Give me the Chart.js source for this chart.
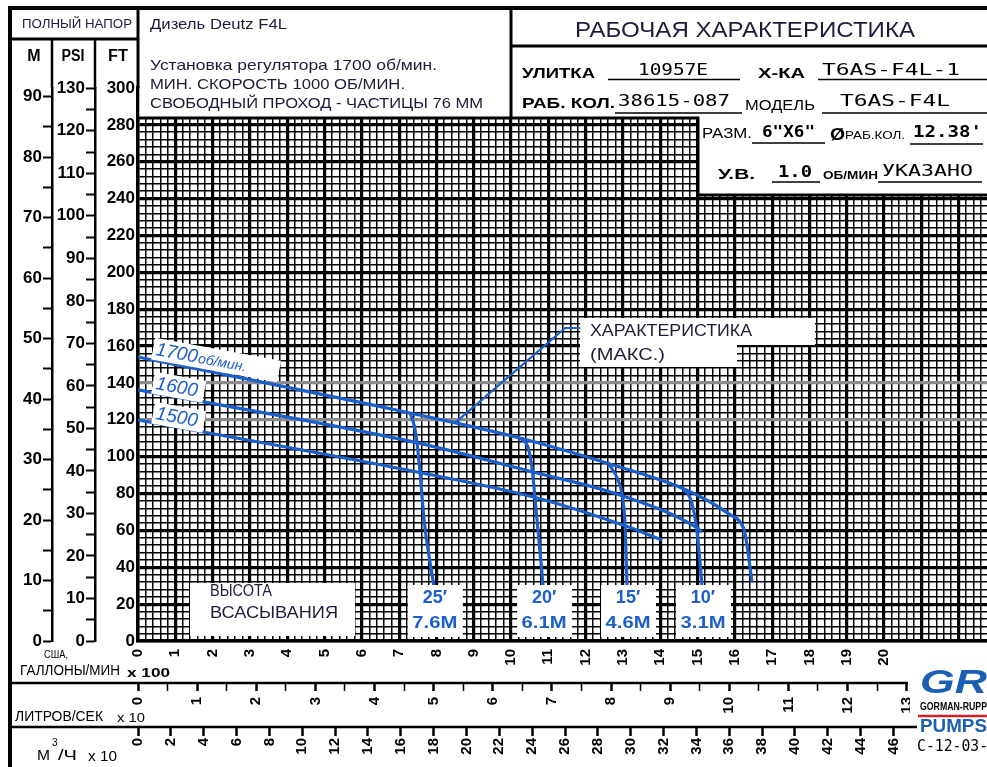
<!DOCTYPE html>
<html><head><meta charset="utf-8">
<style>html,body{margin:0;padding:0;background:#fff;overflow:hidden}#wrap{width:987px;height:767px}</style>
<script src="https://cdn.jsdelivr.net/npm/chart.js@4.4.1/dist/chart.umd.min.js"></script>
</head><body><div id="wrap"><canvas id="c" width="987" height="767"></canvas></div>
<script>
// ---- tick labels ----
const gpmTickLabels = [0,1,2,3,4,5,6,7,8,9,10,11,12,13,14,15,16,17,18,19,20];   // x100 US gpm
const lpsTickLabels = [0,1,2,3,4,5,6,7,8,9,10,11,12,13];                       // x10 L/s
const m3hTickLabels = [0,2,4,6,8,10,12,14,16,18,20,22,24,26,28,30,32,34,36,38,40,42,44,46]; // x10 m3/h
const ftTickLabels  = [0,20,40,60,80,100,120,140,160,180,200,220,240,260,280,300];
const psiTickLabels = [0,10,20,30,40,50,60,70,80,90,100,110,120,130];
const mTickLabels   = [0,10,20,30,40,50,60,70,80,90];

// ---- series (Q in x100 US gpm, H in ft) ----
const rpm1700Q = [0, 7.29, 10.24, 12.73, 14.58, 15.34, 15.88, 16.14, 16.27, 16.46];
const rpm1700H = [154.1, 123.7, 110.1, 95.5, 83.0, 75.4, 68.4, 64.6, 58.6, 32.0];
const rpm1600Q = [0, 7.37, 10.59, 12.92, 14.99, 15.12];
const rpm1600H = [136.2, 108.0, 91.7, 79.2, 61.3, 59.1];
const rpm1500Q = [0, 7.48, 10.70, 13.00, 14.05];
const rpm1500H = [119.9, 91.7, 77.6, 62.9, 54.8];
const lift25Q = [7.29, 7.40, 7.48, 7.56, 7.67, 7.93];
const lift25H = [123.7, 117.2, 107.4, 91.7, 65.6, 30.0];
const lift20Q = [10.24, 10.46, 10.56, 10.64, 10.86];
const lift20H = [110.1, 104.7, 94.4, 78.1, 30.0];
const lift15Q = [12.60, 12.87, 12.98, 13.06, 13.11];
const lift15H = [96.6, 87.3, 79.2, 61.8, 30.0];
const lift10Q = [14.58, 14.80, 14.93, 15.01, 15.12];
const lift10H = [83.0, 77.6, 67.3, 54.8, 30.0];
const calloutQ = [8.50, 11.45, 11.85];
const calloutH = [118.3, 169.8, 169.8];
const liftFt = ["25′","20′","15′","10′"];
const liftM  = ["7.6M","6.1M","4.6M","3.1M"];

// ---- unit conversions ----
const XMAX = 22.76;
const FT_MAX = 300;
const FT_PER_M = 3.28084, FT_PER_PSI = 2.30666;
const LPS10_IN_HGPM = 1.585032, M3H10_IN_HGPM = 0.4402868;

const BLUE = '#1b5fca';
const FONT = "'Liberation Sans', Arial, sans-serif";
Chart.defaults.font.family = FONT;
Chart.defaults.color = '#000';

const zip = (q, h) => q.map((v, i) => ({x: v, y: h[i]}));
const isInt = v => Math.abs(v - Math.round(v)) < 1e-6;
function stepTicks(max, step) {
  return s => { const t = []; for (let i = 0; i * step <= max + 1e-9; i++) t.push({value: Math.round(i * step * 1000) / 1000}); s.ticks = t; };
}
function curve(q, h, w) {
  return {data: zip(q, h), showLine: true, borderColor: BLUE, borderWidth: w || 3.2, pointRadius: 0,
          fill: false, cubicInterpolationMode: 'monotone', xAxisID: 'x', yAxisID: 'y'};
}

function T(c, s, x, y, o) {
  c.save();
  c.font = o.font; c.fillStyle = o.color || '#000'; c.textBaseline = 'middle'; c.textAlign = 'left';
  const w = c.measureText(s).width;
  const tw = o.w || w;
  let x0 = x;
  if (o.align === 'center') x0 = x - tw / 2; else if (o.align === 'right') x0 = x - tw;
  c.translate(x0, y); c.scale(tw / w, 1); c.fillText(s, 0, 0);
  c.restore();
}
function line(c, x1, y1, x2, y2, w, col) {
  c.save(); c.strokeStyle = col || '#000'; c.lineWidth = w; c.beginPath(); c.moveTo(x1, y1); c.lineTo(x2, y2); c.stroke(); c.restore();
}
function white(c, x, y, w, h) { c.save(); c.fillStyle = '#fff'; c.fillRect(x, y, w, h); c.restore(); }

const deco = {
  id: 'deco',
  beforeDraw(ch) { const c = ch.ctx; c.save(); c.fillStyle = '#fff'; c.fillRect(0, 0, ch.width, ch.height); c.restore(); },
  afterDraw(ch) {
    const c = ch.ctx, xs = ch.scales.x, ys = ch.scales.y;
    const L = ch.chartArea.left, B = ch.chartArea.bottom;
    const ink = '#1c1c3a';
    // header covers
    white(c, L + 1.5, 0, 987 - L, 118);
    white(c, 698, 118, 289, 77);
    white(c, 910, 660, 77, 107);
    // frame lines
    line(c, 10, 8, 987, 8, 4);
    line(c, 10, 6, 10, 767, 4);
    line(c, L, 8, L, ch.chartArea.top, 3);
    line(c, 10, 39, L, 39, 3);
    line(c, ch.scales.m.right, 39, ch.scales.m.right, ch.chartArea.top, 2.5);
    line(c, ch.scales.psi.right, 39, ch.scales.psi.right, ch.chartArea.top, 2.5);
    line(c, 511, 8, 511, 118, 3);
    line(c, 511, 46, 987, 46, 3);
    line(c, L, 118, 699, 118, 3);
    line(c, 698, 117, 698, 196, 3);
    line(c, 698, 195, 987, 195, 3);
    // bottom bands
    line(c, 10, ch.scales.lps.top, 908, ch.scales.lps.top, 2.5);
    line(c, 10, ch.scales.m3h.top, 917, ch.scales.m3h.top, 2.5);

    // header left
    T(c, 'ПОЛНЫЙ НАПОР', 22, 24, {font: '13px ' + FONT, w: 110, color: ink});
    T(c, 'M', 34, 57, {font: 'bold 16px ' + FONT, align: 'center'});
    T(c, 'PSI', 73, 57, {font: 'bold 16px ' + FONT, align: 'center', w: 23});
    T(c, 'FT', 118, 57, {font: 'bold 16px ' + FONT, align: 'center', w: 20});
    T(c, 'Дизель Deutz F4L', 150, 25, {font: '15px ' + FONT, w: 137, color: ink});
    T(c, 'Установка регулятора 1700 об/мин.', 150, 66, {font: '15px ' + FONT, w: 287, color: ink});
    T(c, 'МИН. СКОРОСТЬ 1000 ОБ/МИН.', 150, 85, {font: '15px ' + FONT, w: 255, color: ink});
    T(c, 'СВОБОДНЫЙ ПРОХОД - ЧАСТИЦЫ 76 ММ', 150, 103.5, {font: '15px ' + FONT, w: 333, color: ink});
    // header right
    T(c, 'РАБОЧАЯ ХАРАКТЕРИСТИКА', 575, 31, {font: '22px ' + FONT, w: 340, color: ink});
    const b15 = 'bold 15px ' + FONT, m16 = '16px DejaVu Sans Mono, monospace';
    T(c, 'УЛИТКА', 522, 74, {font: b15, w: 73});
    T(c, '10957E', 638, 71, {font: m16, w: 70});
    line(c, 608, 79.5, 740, 79.5, 1.5);
    T(c, 'Х-КА', 758, 74, {font: b15, w: 47});
    T(c, 'T6AS-F4L-1', 822, 71, {font: m16, w: 138});
    line(c, 818, 79.5, 987, 79.5, 1.5);
    T(c, 'РАБ. КОЛ.', 522, 104, {font: b15, w: 93});
    T(c, '38615-087', 618, 102, {font: m16, w: 112});
    line(c, 615, 113, 742, 113, 1.5);
    T(c, 'МОДЕЛЬ', 745, 106, {font: '14px ' + FONT, w: 70});
    T(c, 'T6AS-F4L', 840, 102, {font: m16, w: 110});
    line(c, 822, 113, 987, 113, 1.5);
    T(c, 'РАЗМ.', 702, 134, {font: '14px ' + FONT, w: 50});
    T(c, '6"X6"', 762, 133, {font: 'bold ' + m16, w: 53});
    line(c, 752, 143, 825, 143, 1.5);
    T(c, 'Ø', 830, 136, {font: 'bold 16px ' + FONT, w: 15});
    T(c, 'РАБ.КОЛ.', 845, 136, {font: '11px ' + FONT, w: 60});
    T(c, '12.38\'', 913, 133, {font: 'bold ' + m16, w: 69});
    line(c, 910, 144, 983, 144, 1.5);
    T(c, 'У.В.', 718, 175, {font: b15, w: 37});
    T(c, '1.0', 778, 173, {font: 'bold ' + m16, w: 34});
    line(c, 772, 182, 820, 182, 1.5);
    T(c, 'ОБ/МИН', 823, 176, {font: 'bold 11px ' + FONT, w: 55});
    T(c, 'УКАЗАНО', 882, 172, {font: m16, w: 91});
    line(c, 878, 182, 982, 182, 1.5);

    // rpm labels
    const rl = (x, y, boxW, parts) => {
      c.save(); c.translate(x, y); c.rotate(0.18);
      c.fillStyle = '#fff'; c.fillRect(-3, -17, boxW, 22);
      let px = 0;
      for (const p of parts) { c.font = p[1]; c.fillStyle = BLUE; c.textBaseline = 'alphabetic'; c.fillText(p[0], px, 0); px += c.measureText(p[0]).width + 1; }
      c.restore();
    };
    rl(155, 355, 128, [['1700', 'italic 19px ' + FONT], ['об/мин.', 'italic 14px ' + FONT]]);
    rl(155, 389, 52, [['1600', 'italic 19px ' + FONT]]);
    rl(155, 419, 52, [['1500', 'italic 19px ' + FONT]]);

    // callout text
    white(c, 580, 318, 235, 27); white(c, 580, 345, 157, 22);
    T(c, 'ХАРАКТЕРИСТИКА', 590, 331, {font: '17px ' + FONT, w: 162, color: ink});
    T(c, '(МАКС.)', 590, 355, {font: '17px ' + FONT, w: 75, color: ink});

    // suction lift labels
    white(c, 190, 583, 165, 53);
    T(c, 'ВЫСОТА', 210, 592, {font: '16px ' + FONT, w: 62, color: ink});
    T(c, 'ВСАСЫВАНИЯ', 210, 614, {font: '16px ' + FONT, w: 128, color: ink});
    const ends = [lift25Q, lift20Q, lift15Q, lift10Q].map(a => a[a.length - 1]);
    ends.forEach((q, i) => {
      const cx = xs.getPixelForValue(q) + 1;
      white(c, cx - 27, 585, 55, 52);
      T(c, liftFt[i], cx, 598, {font: 'bold 18px ' + FONT, align: 'center', color: BLUE});
      T(c, liftM[i], cx, 623, {font: 'bold 17px ' + FONT, align: 'center', w: 45, color: BLUE});
    });

    // axis titles bottom
    T(c, 'США,', 56, 655, {font: '11px ' + FONT, align: 'center', w: 24});
    T(c, 'ГАЛЛОНЫ/МИН', 20, 671, {font: '15px ' + FONT, w: 100});
    T(c, 'x 100', 127, 673, {font: 'bold 13px ' + FONT, w: 43});
    T(c, 'ЛИТРОВ/СЕК', 15, 717, {font: '14px ' + FONT, w: 88});
    T(c, 'x 10', 117, 718, {font: '13px ' + FONT, w: 28});
    T(c, 'М', 37, 756, {font: '15px ' + FONT, w: 13});
    T(c, '3', 52, 743, {font: '10px ' + FONT});
    T(c, '/Ч', 58, 756, {font: '15px ' + FONT, w: 19});
    T(c, 'x 10', 88, 757, {font: '14px ' + FONT, w: 29});

    // logo
    T(c, 'GR', 920, 684, {font: 'bold italic 34px ' + FONT, w: 67, color: '#1a5fb4'});
    T(c, 'GORMAN-RUPP', 920, 707, {font: 'bold 11px ' + FONT, w: 67});
    line(c, 918, 716, 987, 716, 2.5, '#d0202a');
    T(c, 'PUMPS', 920, 727, {font: 'bold 19px ' + FONT, w: 67, color: '#1a5fb4'});
    T(c, 'C-12-03-F', 917, 747, {font: '15px DejaVu Sans Mono, monospace', w: 80});
  }
};

const gpmLabelSet = new Set(gpmTickLabels);
const yFont = {size: 17, weight: 'bold'};
const chart = new Chart(document.getElementById('c'), {
  type: 'scatter',
  data: {
    datasets: [
      curve(rpm1700Q, rpm1700H), curve(rpm1600Q, rpm1600H), curve(rpm1500Q, rpm1500H),
      curve(lift25Q, lift25H), curve(lift20Q, lift20H), curve(lift15Q, lift15H), curve(lift10Q, lift10H),
      Object.assign(curve(calloutQ, calloutH, 2.2), {cubicInterpolationMode: 'default', tension: 0})
    ]
  },
  options: {
    responsive: false, animation: false, devicePixelRatio: 1,
    layout: {padding: {top: 88, left: 10, right: 0, bottom: 0}},
    plugins: {legend: {display: false}, tooltip: {enabled: false}},
    events: [],
    scales: {
      x: {
        type: 'linear', position: 'bottom', min: 0, max: XMAX, weight: 0,
        afterBuildTicks: stepTicks(XMAX, 0.2),
        afterFit: s => { s.height = 42; s.paddingLeft = 0; s.paddingRight = 0; },
        grid: {color: '#000', lineWidth: c => (c.tick && isInt(c.tick.value)) ? 3.2 : 1.5, drawTicks: false},
        border: {display: true, color: '#000', width: 3.5},
        ticks: {autoSkip: false, minRotation: 90, maxRotation: 90, padding: 8, font: {size: 15, weight: 'bold'},
                callback: v => (isInt(v) && gpmLabelSet.has(Math.round(v))) ? String(Math.round(v)) : ''}
      },
      lps: {
        type: 'linear', position: 'bottom', min: 0, max: XMAX / LPS10_IN_HGPM, weight: 1,
        afterBuildTicks: stepTicks(lpsTickLabels[lpsTickLabels.length - 1], 0.5),
        afterFit: s => { s.height = 44; s.paddingLeft = 0; s.paddingRight = 0; },
        grid: {drawOnChartArea: false, drawTicks: true, tickLength: 8, color: '#000', tickWidth: c => (c.tick && isInt(c.tick.value)) ? 2.5 : 1.5},
        border: {display: false},
        ticks: {autoSkip: false, minRotation: 90, maxRotation: 90, padding: 6, font: {size: 15, weight: 'bold'},
                callback: v => (isInt(v) && lpsTickLabels.includes(Math.round(v))) ? String(Math.round(v)) : ''}
      },
      m3h: {
        type: 'linear', position: 'bottom', min: 0, max: XMAX / M3H10_IN_HGPM, weight: 2,
        afterBuildTicks: stepTicks(m3hTickLabels[m3hTickLabels.length - 1], 2),
        afterFit: s => { s.height = 40; s.paddingLeft = 0; s.paddingRight = 0; },
        grid: {drawOnChartArea: false, drawTicks: true, tickLength: 9, color: '#000', tickWidth: 2.5},
        border: {display: false},
        ticks: {autoSkip: false, minRotation: 90, maxRotation: 90, padding: 2, font: {size: 15, weight: 'bold'},
                callback: v => m3hTickLabels.includes(Math.round(v)) ? String(Math.round(v)) : ''}
      },
      y: {
        type: 'linear', position: 'left', min: 0, max: FT_MAX, weight: 0,
        afterBuildTicks: stepTicks(FT_MAX, 4),
        afterFit: s => { s.width = 43; s.paddingTop = 0; s.paddingBottom = 0; },
        grid: {color: c => (c.tick && (c.tick.value === 120 || c.tick.value === 140)) ? '#8c8c8c' : '#000',
               lineWidth: c => c.tick ? (c.tick.value % 20 === 0 ? 3.2 : 1.5) : 1, drawTicks: false},
        border: {display: true, color: '#000', width: 3.5},
        ticks: {autoSkip: false, padding: 3, font: yFont,
                callback: v => ftTickLabels.includes(v) ? String(v) : ''}
      },
      psi: {
        type: 'linear', position: 'left', min: 0, max: FT_MAX / FT_PER_PSI, weight: 1,
        afterBuildTicks: stepTicks(psiTickLabels[psiTickLabels.length - 1], 5),
        afterFit: s => { s.width = 43; s.paddingTop = 0; s.paddingBottom = 0; },
        grid: {drawOnChartArea: false, drawTicks: true, tickLength: 9, color: '#000', tickWidth: 2},
        border: {display: true, color: '#000', width: 2.5},
        ticks: {autoSkip: false, padding: 1, font: yFont,
                callback: v => psiTickLabels.includes(v) ? String(v) : ''}
      },
      m: {
        type: 'linear', position: 'left', min: 0, max: FT_MAX / FT_PER_M, weight: 2,
        afterBuildTicks: stepTicks(mTickLabels[mTickLabels.length - 1], 5),
        afterFit: s => { s.width = 42; s.paddingTop = 0; s.paddingBottom = 0; },
        grid: {drawOnChartArea: false, drawTicks: true, tickLength: 9, color: '#000', tickWidth: 2},
        border: {display: true, color: '#000', width: 2.5},
        ticks: {autoSkip: false, padding: 1, font: yFont,
                callback: v => mTickLabels.includes(v) ? String(v) : ''}
      }
    }
  },
  plugins: [deco]
});
</script></body></html>
